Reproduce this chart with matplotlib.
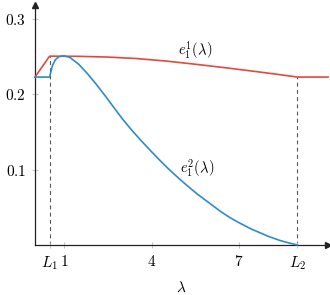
import matplotlib
matplotlib.use('Agg')
import matplotlib.pyplot as plt

plt.rcParams['mathtext.fontset'] = 'cm'
plt.rcParams['font.family'] = 'DejaVu Serif'

L1 = 0.5
L2 = 9.0

# red curve e_1^1
red_x = [0.0, 0.5, 1.5, 2.5, 3.5, 4.5, 5.5, 6.5, 7.5, 8.5, 9.0, 10.05]
red_y = [0.2225, 0.2502, 0.2500, 0.2490, 0.2470, 0.2437, 0.2395, 0.2350, 0.2302, 0.2252, 0.2225, 0.2225]

# blue curve e_1^2
blue_x = [0.0, 0.5, 0.6, 0.7, 0.8, 0.9, 1.0, 1.2, 1.5, 1.8, 2.1, 2.4, 2.7, 3.0, 3.3, 3.6,
          4.0, 4.3, 4.6, 5.0, 5.3, 5.6, 6.0, 6.4, 6.7, 7.0, 7.4, 7.7, 8.0, 8.4, 8.7, 9.0]
blue_y = [0.2225, 0.2225, 0.2380, 0.2455, 0.2490, 0.2503, 0.2506, 0.2485, 0.2395, 0.2270, 0.2130,
          0.1980, 0.1825, 0.1670, 0.1530, 0.1400, 0.1235, 0.1115, 0.1000, 0.0860, 0.0760,
          0.0665, 0.0550, 0.0435, 0.0360, 0.0295, 0.0215, 0.0165, 0.0115, 0.0060, 0.0028, 0.0]

xticks = [L1, 1, 4, 7, L2]
xtick_labels = ['$L_1$', '$1$', '$4$', '$7$', '$L_2$']
yticks = [0.1, 0.2, 0.3]
ytick_labels = ['$0.1$', '$0.2$', '$0.3$']

fig = plt.figure(figsize=(3.3, 2.95), dpi=100)
ax = fig.add_axes([35 / 330, 50 / 295, 293 / 330, 240 / 295])
ax.set_xlim(0, 10.05)
ax.set_ylim(0, 0.318)

red = '#e2493d'
blue = '#2f8bc9'

ax.plot([L1, L1], [0, 0.2502], ls=(0, (3.5, 3)), color='#555555', lw=0.8, zorder=1)
ax.plot([L2, L2], [0, 0.2225], ls=(0, (3.5, 3)), color='#555555', lw=0.8, zorder=1)

ax.plot(red_x, red_y, color=red, lw=1.2, clip_on=False, zorder=3)
ax.plot(blue_x, blue_y, color=blue, lw=1.2, clip_on=False, zorder=3)

ax.text(5.5, 0.2565, r'$e_1^1(\lambda)$', fontsize=10.5, ha='center', va='center')
ax.text(5.55, 0.101, r'$e_1^2(\lambda)$', fontsize=10.5, ha='center', va='center')

for s in ['top', 'right']:
    ax.spines[s].set_visible(False)
for s in ['left', 'bottom']:
    ax.spines[s].set_color('#222222')
    ax.spines[s].set_linewidth(0.9)

ax.plot(1, 0, '>', color='#222222', ms=4, transform=ax.transAxes, clip_on=False)
ax.plot(0, 1, '^', color='#222222', ms=4, transform=ax.transAxes, clip_on=False)

ax.set_xticks(xticks)
ax.set_xticklabels(xtick_labels)
ax.set_yticks(yticks)
ax.set_yticklabels(ytick_labels)
ax.tick_params(direction='inout', length=5, width=0.6, color='#bbbbbb', labelsize=11, pad=4)

ax.set_xlabel(r'$\lambda$', fontsize=11, labelpad=6)

fig.savefig('out.png', dpi=100)
